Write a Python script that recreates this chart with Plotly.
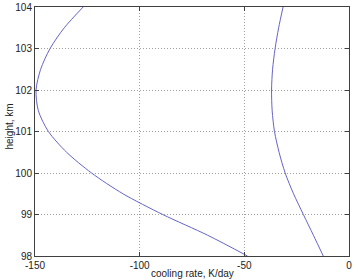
import plotly.graph_objects as go

heights = [104, 103.5, 103, 102.5, 102, 101.5, 101, 100.5, 100, 99.5, 99, 98.5, 98]
rate_a = [-127, -136, -142.8, -147.3, -149.5, -148.4, -143.6, -134.9, -123, -108, -89, -67.5, -48.5]
rate_b = [-31.5, -33.6, -35.3, -36.5, -37, -36.7, -35.6, -33.4, -30.5, -26.5, -21.8, -17, -12.3]
x_ticks = [-150, -100, -50, 0]
y_ticks = [98, 99, 100, 101, 102, 103, 104]
x_title = "cooling rate, K/day"
y_title = "height, km"

line_color = "#6464c8"
fig = go.Figure()
for xs in (rate_a, rate_b):
    fig.add_trace(go.Scatter(x=xs, y=heights, mode="lines",
                             line=dict(color=line_color, width=1, shape="spline", smoothing=0.8),
                             showlegend=False, hoverinfo="skip"))

font = dict(family="Liberation Sans, Arial, sans-serif", size=10, color="#222222")
axis_common = dict(showline=True, linecolor="#404040", linewidth=1, mirror="ticks", ticks="inside",
                   ticklen=4, tickcolor="#404040", showgrid=True, gridcolor="#a0a0a0", griddash="1px,2px",
                   gridwidth=1, zeroline=False, tickfont=font, automargin=False)
fig.update_xaxes(range=[-150, 0], tickvals=x_ticks, ticktext=[str(v) for v in x_ticks], **axis_common)
fig.update_yaxes(range=[98, 104], tickvals=y_ticks, ticktext=[str(v) for v in y_ticks], **axis_common)
fig.add_annotation(text=x_title, xref="paper", yref="paper", x=0.5, y=0, xanchor="center",
                   yanchor="top", yshift=-11, showarrow=False, font=font, borderpad=0)
fig.add_annotation(text=y_title, xref="paper", yref="paper", x=0, y=0.5, xanchor="center",
                   yanchor="middle", xshift=-26, yshift=5, textangle=-90, showarrow=False, font=font)
fig.update_layout(width=355, height=279, margin=dict(l=35, r=6, t=7, b=23),
                  plot_bgcolor="white", paper_bgcolor="white", font=font)
fig.write_html("out.html")
